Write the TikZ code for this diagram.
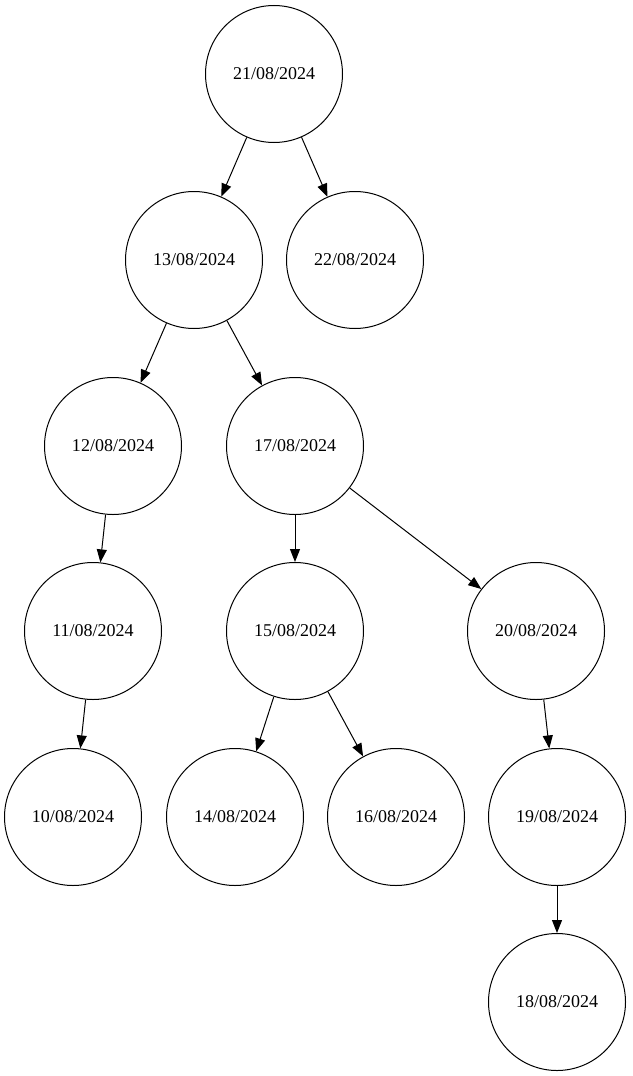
\documentclass[tikz,border=0pt]{standalone}
\usepackage{fontspec}
\setmainfont{Liberation Serif}
\usetikzlibrary{arrows.meta}
\begin{document}
\begin{tikzpicture}[x=1pt,y=-1pt,
  tnode/.style={circle,draw,line width=1pt,minimum size=137pt,inner sep=0pt,font=\fontsize{18}{21}\selectfont},
  edge/.style={line width=1pt,-{Triangle[length=13pt,width=10pt]},shorten >=0pt}]
\useasboundingbox (0,0) rectangle (632,1076);
\node[tnode] (n21) at (274,74) {21/08/2024};
\node[tnode] (n13) at (194,260) {13/08/2024};
\node[tnode] (n22) at (355,260) {22/08/2024};
\node[tnode] (n12) at (113,446) {12/08/2024};
\node[tnode] (n17) at (295,446) {17/08/2024};
\node[tnode] (n11) at (93,631) {11/08/2024};
\node[tnode] (n15) at (295,631) {15/08/2024};
\node[tnode] (n20) at (536,631) {20/08/2024};
\node[tnode] (n10) at (73,817) {10/08/2024};
\node[tnode] (n14) at (235,817) {14/08/2024};
\node[tnode] (n16) at (396,817) {16/08/2024};
\node[tnode] (n19) at (557,817) {19/08/2024};
\node[tnode] (n18) at (557,1002) {18/08/2024};
\draw[edge] (n21) -- (n13);
\draw[edge] (n21) -- (n22);
\draw[edge] (n13) -- (n12);
\draw[edge] (n13) -- (n17);
\draw[edge] (n12) -- (n11);
\draw[edge] (n11) -- (n10);
\draw[edge] (n17) -- (n15);
\draw[edge] (n17) -- (n20);
\draw[edge] (n15) -- (n14);
\draw[edge] (n15) -- (n16);
\draw[edge] (n20) -- (n19);
\draw[edge] (n19) -- (n18);
\end{tikzpicture}
\end{document}
